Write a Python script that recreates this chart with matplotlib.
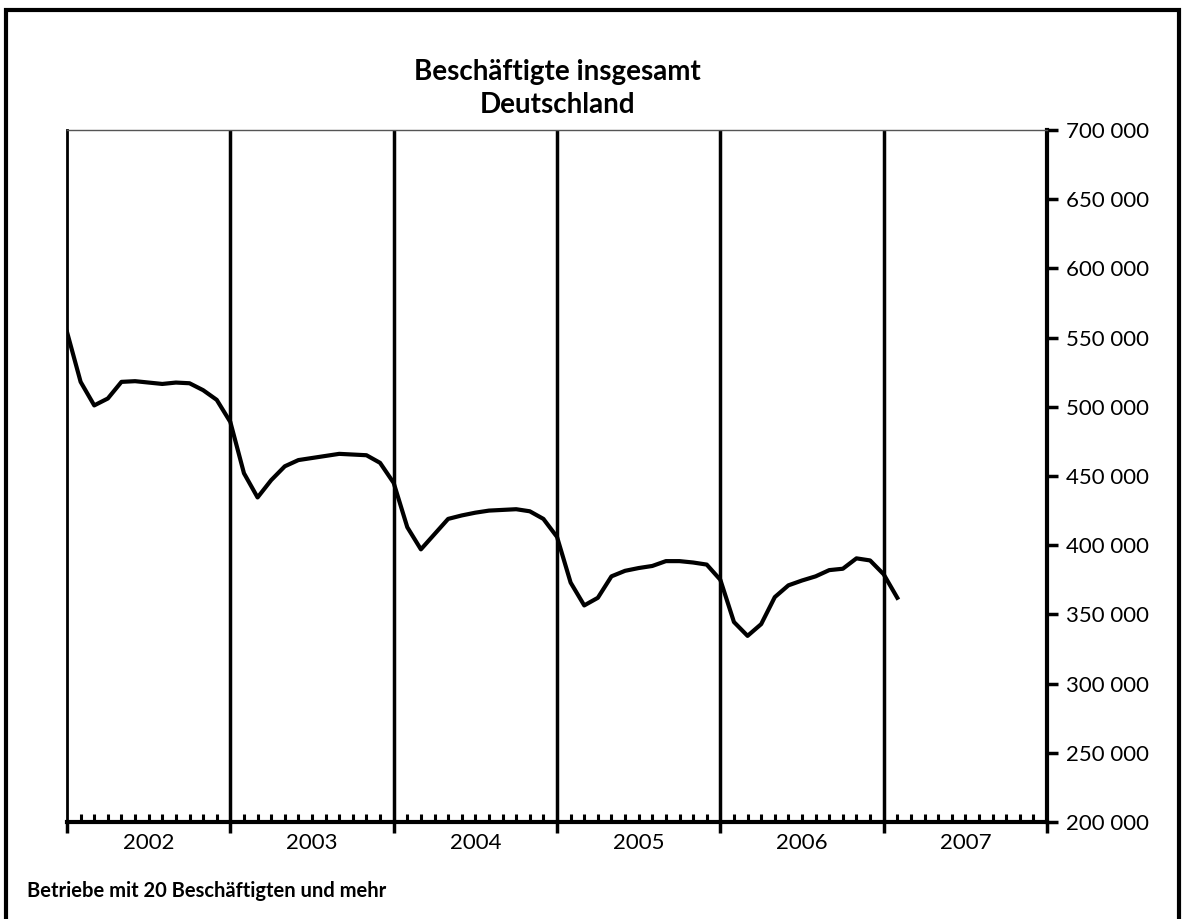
import matplotlib.pyplot as plt
import numpy as np
from matplotlib.patches import Rectangle

plt.rcParams['font.family'] = ['Lato', 'DejaVu Sans']

# Beschaeftigte, monatlich ab Januar 2002
werte = np.array([
    554000, 518000, 501000, 506000, 518000, 518500, 517500, 516500, 517500, 517000, 512000, 505000,
    489000, 452000, 434500, 447000, 457000, 461500, 463000, 464500, 466000, 465500, 465000, 459500,
    445000, 413000, 397000, 408000, 419000, 421500, 423500, 425000, 425500, 426000, 424500, 419000,
    406000, 373000, 356500, 362000, 377500, 381500, 383500, 385000, 388500, 388500, 387500, 386000,
    375000, 344500, 334500, 343000, 362500, 371000, 374500, 377500, 382000, 383000, 390500, 389000,
    379000, 362000])
monate = np.arange(len(werte))
jahre = ['2002', '2003', '2004', '2005', '2006', '2007']
y_ticks = np.arange(200000, 700001, 50000)

fig = plt.figure(figsize=(11.84, 9.19), dpi=100)
ax = fig.add_axes([0.0566, 0.1055, 0.8277, 0.7531])

ax.plot(monate, werte, color='black', lw=3, solid_joinstyle='round')

for k in range(1, len(jahre)):
    ax.axvline(12 * k, color='black', lw=2.5)

ax.set_xlim(0, 12 * len(jahre))
ax.set_ylim(200000, 700000)

ax.yaxis.tick_right()
ax.set_yticks(y_ticks)
ax.set_yticklabels(['{:,}'.format(v).replace(',', ' ') for v in y_ticks], fontsize=16)
ax.tick_params(axis='y', direction='out', length=8, width=2.5, pad=6)

ax.set_xticks(np.arange(0, 12 * len(jahre) + 1, 12))
ax.set_xticklabels([])
ax.set_xticks(np.arange(0, 12 * len(jahre) + 1, 1), minor=True)
ax.tick_params(axis='x', which='major', direction='out', length=8, width=2.5)
ax.tick_params(axis='x', which='minor', direction='in', length=6, width=2.2)
for i, j in enumerate(jahre):
    ax.text(12 * i + 6, -0.016, j, transform=ax.get_xaxis_transform(),
            ha='center', va='top', fontsize=16)

ax.spines['right'].set_linewidth(3)
ax.spines['bottom'].set_linewidth(3)
ax.spines['left'].set_linewidth(2)
ax.spines['top'].set_linewidth(1)
ax.spines['top'].set_color('#555555')

fig.text(0.471, 0.913, 'Beschäftigte insgesamt', ha='center', va='baseline',
         fontsize=20, fontweight='bold')
fig.text(0.471, 0.877, 'Deutschland', ha='center', va='baseline',
         fontsize=20, fontweight='bold')
fig.text(0.023, 0.024, 'Betriebe mit 20 Beschäftigten und mehr', ha='left', va='baseline',
         fontsize=14.5, fontweight='bold')

fig.patches.append(Rectangle((0.005, -0.01), 0.991, 0.999, transform=fig.transFigure,
                             fill=False, edgecolor='black', lw=3))

fig.savefig('out.png', dpi=100)
